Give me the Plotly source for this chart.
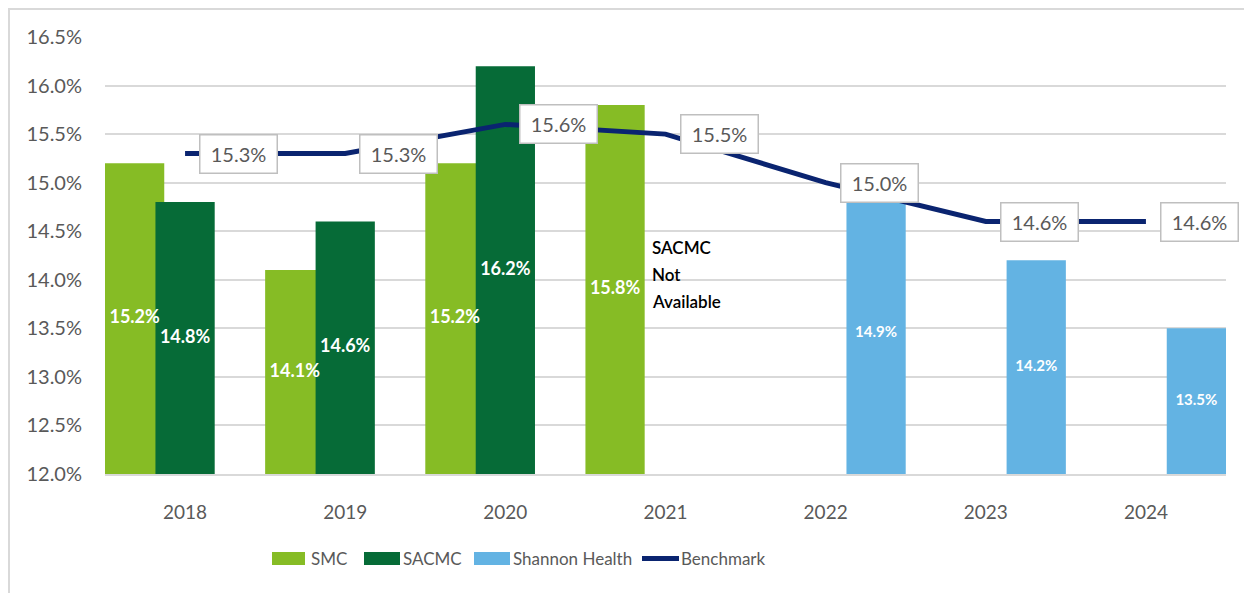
import plotly.graph_objects as go

# ---- data ----
years = ["2018", "2019", "2020", "2021", "2022", "2023", "2024"]
smc = [15.2, 14.1, 15.2, 15.8, None, None, None]
sacmc = [14.8, 14.6, 16.2, None, None, None, None]
shannon = [None, None, None, None, 14.9, 14.2, 13.5]
benchmark = [15.3, 15.3, 15.6, 15.5, 15.0, 14.6, 14.6]
y_ticks = [12.0, 12.5, 13.0, 13.5, 14.0, 14.5, 15.0, 15.5, 16.0, 16.5]
na_note = ["SACMC", "Not", "Available"]
legend_names = ["SMC", "SACMC", "Shannon Health", "Benchmark"]

# ---- style ----
C_SMC = "#86BC25"
C_SACMC = "#066B37"
C_SHAN = "#63B3E3"
C_BENCH = "#0A2470"
C_TXT = "#595959"
C_GRID = "#D9D9D9"
BASE = 12.0
BAR_W = 0.37

PAGE_W, PAGE_H = 1252, 593
OFF = 8  # default page body margin
W, H = PAGE_W - OFF, PAGE_H - OFF
# plot area in page pixels: x 105..1226, y 37..474
ML, MR, MT, MB = 105 - OFF, PAGE_W - 1226, 37 - OFF, PAGE_H - 474
PW = W - ML - MR
PH = H - MT - MB

xs = list(range(len(years)))

series = [
    (smc, C_SMC, -0.5, 18),
    (sacmc, C_SACMC, -0.185, 18),
    (shannon, C_SHAN, 0.13, 15),
]

fig = go.Figure()
for vals, color, offset, fsize in series:
    fig.add_trace(go.Bar(
        x=xs, y=[None if v is None else v - BASE for v in vals],
        base=[BASE] * len(xs),
        marker=dict(color=color, line=dict(width=0)),
        offset=offset, width=BAR_W, showlegend=False, hoverinfo="skip",
    ))

# value labels drawn on top of all bars
for vals, color, offset, fsize in series:
    lx, ly, lt = [], [], []
    for i, v in zip(xs, vals):
        if v is None:
            continue
        lx.append(i + offset + BAR_W / 2)
        ly.append((v + BASE) / 2)
        lt.append(f"{v:.1f}%")
    fig.add_trace(go.Scatter(
        x=lx, y=ly, text=lt, mode="text", textposition="middle center",
        textfont=dict(family="Lato", size=fsize, color="white", weight="bold"),
        showlegend=False, hoverinfo="skip",
    ))

fig.add_trace(go.Scatter(
    x=xs, y=benchmark, mode="lines",
    line=dict(color=C_BENCH, width=5), showlegend=False, hoverinfo="skip",
))

annotations = []
for i, v in enumerate(benchmark):
    annotations.append(dict(
        x=i, y=v, xref="x", yref="y", text=f"{v:.1f}%",
        showarrow=False, xanchor="center", yanchor="middle", xshift=53.5,
        bgcolor="white", bordercolor="#BFBFBF", borderwidth=1.5,
        borderpad=3, width=70, height=31,
        font=dict(family="Lato", size=20, color=C_TXT),
    ))

for k, line in enumerate(na_note):
    annotations.append(dict(
        x=3, y=14.05, xref="x", yref="y", text=line, showarrow=False,
        xanchor="left", yanchor="middle", xshift=-16, yshift=27 * (1 - k),
        font=dict(family="Lato", size=17, color="#000000", weight=600),
    ))

shapes = []


def px_x(p):
    return (p - OFF - ML) / PW


def px_y(p):
    return (H - MB - (p - OFF)) / PH


# custom legend
swatches = [(272, 305, C_SMC), (364, 400, C_SACMC), (474, 510, C_SHAN)]
for x0, x1, c in swatches:
    shapes.append(dict(type="rect", xref="paper", yref="paper",
                       x0=px_x(x0), x1=px_x(x1), y0=px_y(565), y1=px_y(552),
                       fillcolor=c, line=dict(width=0)))
shapes.append(dict(type="line", xref="paper", yref="paper",
                   x0=px_x(642), x1=px_x(679), y0=px_y(558.5), y1=px_y(558.5),
                   line=dict(color=C_BENCH, width=5)))
text_x = [311, 403, 513, 681]
for name, tx in zip(legend_names, text_x):
    annotations.append(dict(
        x=px_x(tx), y=px_y(558.5), xref="paper", yref="paper", text=name,
        showarrow=False, xanchor="left", yanchor="middle", xshift=-2,
        font=dict(family="Lato", size=17, color=C_TXT),
    ))

# outer frame (top and left edges)
shapes.append(dict(type="line", xref="paper", yref="paper",
                   x0=px_x(OFF), x1=px_x(PAGE_W), y0=px_y(OFF + 1), y1=px_y(OFF + 1),
                   line=dict(color="#D9D9D9", width=2)))
shapes.append(dict(type="line", xref="paper", yref="paper",
                   x0=px_x(OFF + 1), x1=px_x(OFF + 1), y0=px_y(OFF), y1=px_y(PAGE_H),
                   line=dict(color="#D9D9D9", width=2)))

fig.update_layout(
    width=W, height=H, autosize=False,
    margin=dict(l=ML, r=MR, t=MT, b=MB),
    paper_bgcolor="white", plot_bgcolor="white",
    barmode="overlay",
    showlegend=False,
    xaxis=dict(
        range=[-0.5, len(years) - 0.5], tickmode="array", tickvals=xs,
        ticktext=years, showgrid=False, zeroline=False,
        showline=True, linecolor=C_GRID, linewidth=2,
        ticks="outside", ticklen=20, tickcolor="rgba(0,0,0,0)",
        tickfont=dict(family="Lato", size=19, color=C_TXT),
    ),
    yaxis=dict(
        range=[12.0, 16.5], tickmode="array", tickvals=y_ticks,
        ticktext=[f"{t:.1f}%" for t in y_ticks],
        showgrid=True, gridcolor=C_GRID, gridwidth=2, zeroline=False,
        ticks="outside", ticklen=18, tickcolor="rgba(0,0,0,0)",
        tickfont=dict(family="Lato", size=20, color=C_TXT),
    ),
    annotations=annotations,
    shapes=shapes,
)

fig.write_html("out.html")
